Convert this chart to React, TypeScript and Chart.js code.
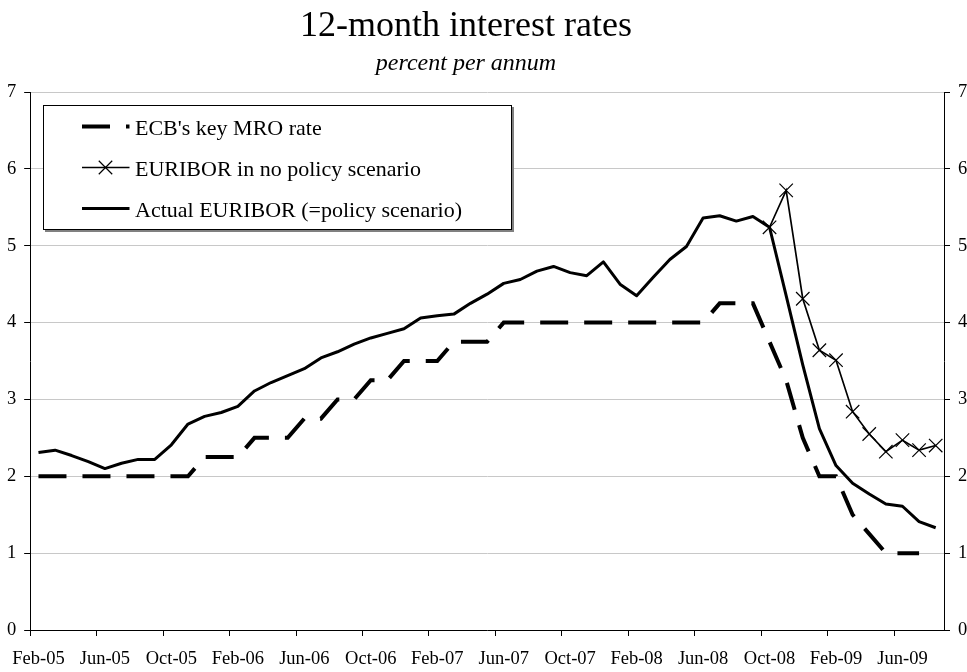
import React, { useEffect, useRef } from 'react';
import { Chart, registerables } from 'chart.js';

Chart.register(...registerables);

const months = [
  'Feb-05', 'Mar-05', 'Apr-05', 'May-05', 'Jun-05', 'Jul-05', 'Aug-05', 'Sep-05', 'Oct-05', 'Nov-05', 'Dec-05',
  'Jan-06', 'Feb-06', 'Mar-06', 'Apr-06', 'May-06', 'Jun-06', 'Jul-06', 'Aug-06', 'Sep-06', 'Oct-06', 'Nov-06', 'Dec-06',
  'Jan-07', 'Feb-07', 'Mar-07', 'Apr-07', 'May-07', 'Jun-07', 'Jul-07', 'Aug-07', 'Sep-07', 'Oct-07', 'Nov-07', 'Dec-07',
  'Jan-08', 'Feb-08', 'Mar-08', 'Apr-08', 'May-08', 'Jun-08', 'Jul-08', 'Aug-08', 'Sep-08', 'Oct-08', 'Nov-08', 'Dec-08',
  'Jan-09', 'Feb-09', 'Mar-09', 'Apr-09', 'May-09', 'Jun-09', 'Jul-09', 'Aug-09',
];

// ECB's key MRO rate
const ecbRate: (number | null)[] = [
  2.0, 2.0, 2.0, 2.0, 2.0, 2.0, 2.0, 2.0, 2.0, 2.0, 2.25,
  2.25, 2.25, 2.5, 2.5, 2.5, 2.75, 2.75, 3.0, 3.0, 3.25, 3.25, 3.5,
  3.5, 3.5, 3.75, 3.75, 3.75, 4.0, 4.0, 4.0, 4.0, 4.0, 4.0, 4.0,
  4.0, 4.0, 4.0, 4.0, 4.0, 4.0, 4.25, 4.25, 4.25, 3.75, 3.25, 2.5,
  2.0, 2.0, 1.5, 1.25, 1.0, 1.0, 1.0, null,
];

// EURIBOR in no policy scenario
const noPolicy: (number | null)[] = [
  null, null, null, null, null, null, null, null, null, null, null,
  null, null, null, null, null, null, null, null, null, null, null, null,
  null, null, null, null, null, null, null, null, null, null, null, null,
  null, null, null, null, null, null, null, null, null, 5.24, 5.72, 4.31,
  3.64, 3.51, 2.84, 2.55, 2.32, 2.47, 2.34, 2.40,
];

// Actual EURIBOR (=policy scenario)
const actual: (number | null)[] = [
  2.31, 2.34, 2.27, 2.19, 2.10, 2.17, 2.22, 2.22, 2.41, 2.68, 2.78,
  2.83, 2.91, 3.11, 3.22, 3.31, 3.40, 3.54, 3.62, 3.72, 3.80, 3.86, 3.92,
  4.06, 4.09, 4.11, 4.25, 4.37, 4.51, 4.56, 4.67, 4.73, 4.65, 4.61, 4.79,
  4.50, 4.35, 4.59, 4.82, 4.99, 5.36, 5.39, 5.32, 5.38, 5.24, 4.35, 3.45,
  2.62, 2.14, 1.91, 1.77, 1.64, 1.61, 1.41, 1.33,
];

const seriesLabels = ["ECB's key MRO rate", 'EURIBOR in no policy scenario', 'Actual EURIBOR (=policy scenario)'];
const titleText = '12-month interest rates';
const subtitleText = 'percent per annum';
const yMin = 0;
const yMax = 7;
const yStep = 1;
const labelEvery = 4;

const SERIF = "'Liberation Serif', 'Times New Roman', serif";

const shiftTitles = {
  id: 'shiftTitles',
  afterLayout(chart: any) {
    chart.boxes.forEach((b: any) => {
      if (b.options && typeof b.options.text === 'string' && b.options.text) {
        b.left = 0;
        b.right = 932;
      }
    });
  },
};

const boxLegend = {
  id: 'boxLegend',
  afterDraw(chart: any) {
    const ctx = chart.ctx as CanvasRenderingContext2D;
    const x0 = 43;
    const y0 = 105;
    const w = 468;
    const h = 124;
    ctx.save();
    ctx.fillStyle = '#808080';
    ctx.fillRect(x0 + 2, y0 + 2, w + 1, h + 1);
    ctx.fillStyle = '#ffffff';
    ctx.fillRect(x0, y0, w, h);
    ctx.strokeStyle = '#000';
    ctx.lineWidth = 1;
    ctx.setLineDash([]);
    ctx.strokeRect(x0 + 0.5, y0 + 0.5, w, h);
    chart.data.datasets.forEach((ds: any, i: number) => {
      const y = 126.5 + i * 41;
      ctx.beginPath();
      ctx.setLineDash(ds.borderDash || []);
      ctx.lineWidth = ds.borderWidth;
      ctx.strokeStyle = ds.borderColor;
      ctx.lineCap = 'butt';
      ctx.moveTo(82, y);
      ctx.lineTo(129.5, y);
      ctx.stroke();
      ctx.setLineDash([]);
      if (ds.pointStyle === 'crossRot') {
        const r = ds.pointRadius * Math.SQRT1_2;
        const cx = 105.5;
        ctx.lineWidth = ds.pointBorderWidth;
        ctx.beginPath();
        ctx.moveTo(cx - r, y - r);
        ctx.lineTo(cx + r, y + r);
        ctx.moveTo(cx - r, y + r);
        ctx.lineTo(cx + r, y - r);
        ctx.stroke();
      }
      ctx.fillStyle = '#000';
      ctx.font = `22px ${SERIF}`;
      ctx.textBaseline = 'alphabetic';
      ctx.textAlign = 'left';
      ctx.fillText(ds.label, 135, y + 8.5);
    });
    ctx.restore();
  },
};

export default function App() {
  const canvasRef = useRef<HTMLCanvasElement | null>(null);

  useEffect(() => {
    document.body.style.margin = '0';
    const canvas = canvasRef.current;
    if (!canvas) return;
    const tickFont = { family: SERIF, size: 18.5 };
    const chart = new Chart(canvas, {
      type: 'line',
      data: {
        labels: months,
        datasets: [
          {
            label: seriesLabels[0],
            data: ecbRate,
            borderColor: '#000',
            backgroundColor: '#000',
            borderWidth: 4,
            borderDash: [28, 16],
            borderCapStyle: 'butt',
            pointRadius: 0,
            tension: 0,
            fill: false,
          },
          {
            label: seriesLabels[1],
            data: noPolicy,
            borderColor: '#000',
            backgroundColor: '#000',
            borderWidth: 1.7,
            pointStyle: 'crossRot',
            pointRadius: 9.5,
            pointBorderWidth: 1.2,
            pointBorderColor: '#000',
            pointBackgroundColor: '#000',
            tension: 0,
            fill: false,
          },
          {
            label: seriesLabels[2],
            data: actual,
            borderColor: '#000',
            backgroundColor: '#000',
            borderWidth: 3,
            borderJoinStyle: 'round',
            pointRadius: 0,
            tension: 0,
            fill: false,
          },
        ] as any,
      },
      options: {
        responsive: false,
        animation: false,
        devicePixelRatio: 1,
        layout: { padding: 0 },
        plugins: {
          legend: { display: false },
          tooltip: { enabled: false },
          title: {
            display: true,
            text: titleText,
            color: '#000',
            font: { family: SERIF, size: 36, weight: 'normal', lineHeight: 1.2 },
            padding: { top: 5, bottom: 0 },
          },
          subtitle: {
            display: true,
            text: subtitleText,
            color: '#000',
            font: { family: SERIF, size: 24, style: 'italic', weight: 'normal', lineHeight: 1.2 },
            padding: { top: 1, bottom: 14 },
          },
        },
        scales: {
          x: {
            type: 'category',
            offset: true,
            grid: {
              offset: true,
              drawOnChartArea: false,
              drawTicks: true,
              tickLength: 6,
              tickColor: (c: any) => (c.index !== undefined && c.index % labelEvery === 0 ? '#000' : 'rgba(0,0,0,0)'),
            },
            border: { color: '#000', width: 1 },
            ticks: {
              autoSkip: false,
              maxRotation: 0,
              minRotation: 0,
              padding: 12,
              color: '#000',
              font: tickFont,
              callback: (_v: any, i: number) => (i % labelEvery === 0 ? months[i] : ''),
            },
            afterFit: (s: any) => {
              s.height = 42;
            },
          },
          y: {
            position: 'left',
            min: yMin,
            max: yMax,
            ticks: { stepSize: yStep, padding: 8, color: '#000', font: tickFont },
            grid: { color: '#c8c8c8', tickColor: '#000', tickLength: 6, lineWidth: 1 },
            border: { color: '#000', width: 1 },
            afterFit: (s: any) => {
              s.width = 29;
            },
          },
          y2: {
            position: 'right',
            min: yMin,
            max: yMax,
            ticks: { stepSize: yStep, padding: 8, color: '#000', font: tickFont },
            grid: { drawOnChartArea: false, tickColor: '#000', tickLength: 6 },
            border: { color: '#000', width: 1 },
            afterFit: (s: any) => {
              s.width = 23;
            },
          },
        },
      } as any,
      plugins: [shiftTitles, boxLegend],
    });
    return () => chart.destroy();
  }, []);

  return (
    <div style={{ position: 'absolute', left: 0, top: 0, width: 967, height: 672 }}>
      <canvas ref={canvasRef} width={967} height={672} style={{ display: 'block' }} />
    </div>
  );
}
